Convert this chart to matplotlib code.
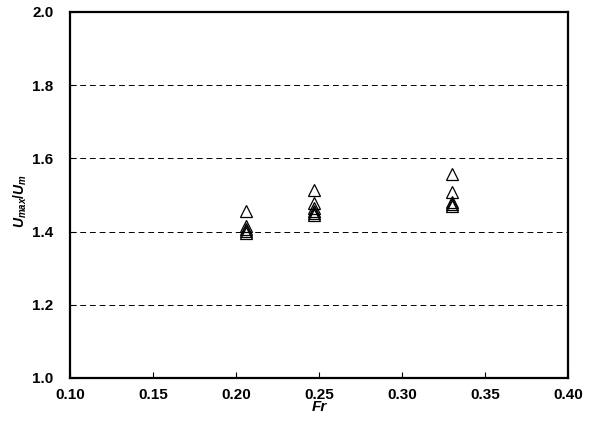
import numpy as np
import matplotlib
matplotlib.use("Agg")
import matplotlib.pyplot as plt

plt.rcParams['font.family'] = ['Liberation Sans', 'DejaVu Sans']
plt.rcParams['mathtext.fontset'] = 'custom'
plt.rcParams['mathtext.it'] = 'Liberation Sans:bold:italic'
plt.rcParams['mathtext.rm'] = 'Liberation Sans:bold'

# Fr values and measured Umax/Um ratios
fr_a = [0.206, 0.206, 0.206, 0.206, 0.206]
ratio_a = [1.455, 1.415, 1.408, 1.402, 1.395]
fr_b = [0.247, 0.247, 0.247, 0.247, 0.247, 0.247]
ratio_b = [1.513, 1.478, 1.465, 1.457, 1.451, 1.445]
fr_c = [0.330, 0.330, 0.330, 0.330, 0.330]
ratio_c = [1.558, 1.507, 1.480, 1.475, 1.470]

fr = fr_a + fr_b + fr_c
ratio = ratio_a + ratio_b + ratio_c

xticks = [0.10, 0.15, 0.20, 0.25, 0.30, 0.35, 0.40]
yticks = [1.0, 1.2, 1.4, 1.6, 1.8, 2.0]

fig = plt.figure(figsize=(5.9, 4.28), dpi=100)
ax = fig.add_axes([0.1186, 0.117, 0.8441, 0.855])

for y in yticks[1:-1]:
    ax.axhline(y, color='black', linestyle=(0, (6, 4)), linewidth=0.7, zorder=1)

ax.plot(fr, ratio, linestyle='none', marker='^', markersize=8.5,
        markerfacecolor='none', markeredgecolor='black', markeredgewidth=0.9, zorder=3)

ax.set_xlim(0.10, 0.40)
ax.set_ylim(1.0, 2.0)
ax.set_xticks(xticks)
ax.set_yticks(yticks)
ax.set_xticklabels([f"{v:.2f}" for v in xticks], fontweight='bold', fontsize=11)
ax.set_yticklabels([f"{v:.1f}" for v in yticks], fontweight='bold', fontsize=11)
ax.tick_params(axis='x', direction='in', length=4, width=0.8, pad=7)
ax.tick_params(axis='y', direction='in', length=4, width=0.8, pad=12)

for s in ax.spines.values():
    s.set_linewidth(1.6)

ax.set_xlabel('Fr', fontsize=11, fontweight='bold', fontstyle='italic', labelpad=-1)
fig.text(0.034, 0.53, r'$U_{max}/U_{m}$', rotation=90, ha='center', va='center',
         fontsize=10)

fig.savefig('out.png', dpi=100)
